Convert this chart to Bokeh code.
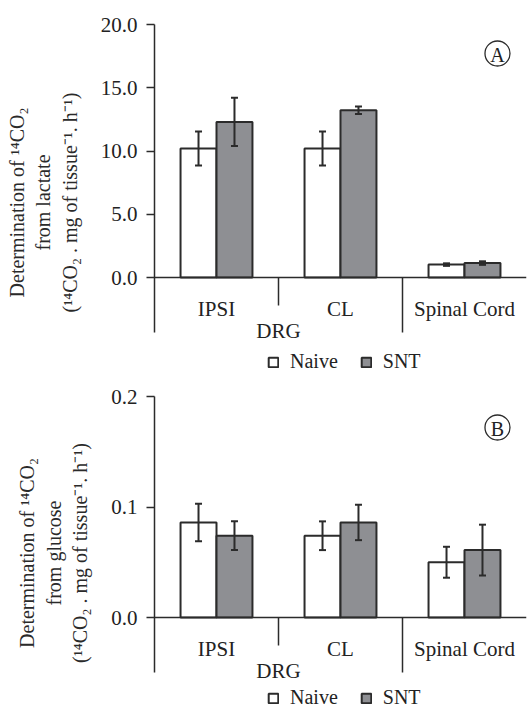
from bokeh.plotting import figure
from bokeh.models import (ColumnDataSource, FactorRange, FixedTicker, NumeralTickFormatter,
                          Span, Whisker, TeeHead, Legend, LegendItem, Range1d)
from bokeh.transform import dodge
from bokeh.core.properties import value
from bokeh.layouts import column
from bokeh.embed import file_html
from bokeh.resources import INLINE

# ---------------- data ----------------
categories = ["IPSI", "CL", "Spinal Cord"]
series_names = ["Naive", "SNT"]
group_label = "DRG"

lactate_naive = [10.2, 10.2, 1.02]
lactate_naive_err = [1.35, 1.35, 0.10]
lactate_snt = [12.3, 13.22, 1.14]
lactate_snt_err = [1.9, 0.29, 0.14]
lactate_ticks = [0, 5, 10, 15, 20]

glucose_naive = [0.086, 0.074, 0.050]
glucose_naive_err = [0.017, 0.013, 0.014]
glucose_snt = [0.074, 0.086, 0.061]
glucose_snt_err = [0.013, 0.016, 0.023]
glucose_ticks = [0.0, 0.1, 0.2]

label_A = "Determination of \u00b9\u2074CO\u2082\nfrom lactate\n(\u00b9\u2074CO\u2082 . mg of tissue\u207b\u00b9. h\u207b\u00b9)"
label_B = "Determination of \u00b9\u2074CO\u2082\nfrom glucose\n(\u00b9\u2074CO\u2082 . mg of tissue\u207b\u00b9. h\u207b\u00b9)"

# ---------------- style ----------------
FONT = "Liberation Serif"
FS = "21px"
TXT = "#222222"
EDGE = "#2b2b2b"
GRAY = "#8e8f93"
BAR_W = 0.29
OFF = 0.145
W = 532
LEFT = 154
RIGHT = 6


def make_panel(naive, naive_err, snt, snt_err, ticks, ylabel, tag,
               height, top, plot_px, axis_below_px, legend_y, tag_px):
    # plot_px: pixels from 0 to the top tick; axis_below_px: axis line length below 0
    y_end = ticks[-1]
    ppu = plot_px / y_end
    frame_h = height - top
    y_start = -(frame_h - plot_px) / ppu
    axis_low = -axis_below_px / ppu

    p = figure(width=W, height=height, x_range=FactorRange(factors=categories, range_padding=0),
               y_range=Range1d(y_start, y_end), output_backend="svg", toolbar_location=None,
               min_border_left=LEFT, min_border_right=RIGHT, min_border_top=top,
               min_border_bottom=0)
    p.outline_line_color = None
    p.grid.visible = False
    p.xaxis.visible = False
    p.background_fill_color = "white"
    p.border_fill_color = "white"

    ya = p.yaxis[0]
    ya.bounds = (axis_low, y_end)
    ya.ticker = FixedTicker(ticks=ticks)
    ya.formatter = NumeralTickFormatter(format="0.0")
    ya.minor_tick_line_color = None
    ya.major_tick_in = 0
    ya.major_tick_out = 8
    ya.major_label_standoff = 9
    ya.axis_line_color = EDGE
    ya.axis_line_width = 1.5
    ya.major_tick_line_color = EDGE
    ya.major_tick_line_width = 1.5
    ya.major_label_text_font = FONT
    ya.major_label_text_font_size = FS
    ya.major_label_text_color = TXT
    ya.axis_label = ylabel
    ya.axis_label_text_font = FONT
    ya.axis_label_text_font_size = "20px"
    ya.axis_label_text_font_style = "normal"
    ya.axis_label_text_color = "#2a2a2a"
    ya.axis_label_standoff = 17

    src = ColumnDataSource(dict(
        cat=categories, naive=naive, snt=snt,
        n_lo=[v - e for v, e in zip(naive, naive_err)],
        n_hi=[v + e for v, e in zip(naive, naive_err)],
        s_lo=[v - e for v, e in zip(snt, snt_err)],
        s_hi=[v + e for v, e in zip(snt, snt_err)],
        lab_y=[-31 / ppu] * len(categories),
    ))

    rn = p.vbar(x=dodge("cat", -OFF, range=p.x_range), top="naive", bottom=0, width=BAR_W,
                source=src, fill_color="white", line_color=EDGE, line_width=2)
    rs = p.vbar(x=dodge("cat", OFF, range=p.x_range), top="snt", bottom=0, width=BAR_W,
                source=src, fill_color=GRAY, line_color=EDGE, line_width=2)

    for off, lo, hi in ((-OFF, "n_lo", "n_hi"), (OFF, "s_lo", "s_hi")):
        wk = Whisker(base=dodge("cat", off, range=p.x_range), lower=lo, upper=hi, source=src,
                     line_color=EDGE, line_width=2, level="overlay",
                     upper_head=TeeHead(size=7, line_color=EDGE, line_width=2),
                     lower_head=TeeHead(size=7, line_color=EDGE, line_width=2))
        p.add_layout(wk)

    p.add_layout(Span(location=0, dimension="width", line_color=EDGE, line_width=1.5))

    # category separators below the zero line
    sep = ColumnDataSource(dict(cat=categories[:2], y1=[-28 / ppu, axis_low]))
    p.segment(x0=dodge("cat", 0.5, range=p.x_range), x1=dodge("cat", 0.5, range=p.x_range),
              y0=0, y1="y1", source=sep, line_color=EDGE, line_width=1.5)

    p.text(x="cat", y="lab_y", text="cat", source=src, text_align="center",
           text_baseline="middle", text_font=value(FONT), text_font_size=value(FS),
           text_color=TXT)

    grp = ColumnDataSource(dict(cat=[categories[0]], y=[-53 / ppu], t=[group_label]))
    p.text(x=dodge("cat", 0.5, range=p.x_range), y="y", text="t", source=grp,
           text_align="center", text_baseline="middle", text_font=value(FONT),
           text_font_size=value(FS), text_color=TXT)

    # panel tag
    tg = ColumnDataSource(dict(cat=[categories[-1]], y=[tag_px / ppu], t=[tag]))
    p.scatter(x=dodge("cat", 0.266, range=p.x_range), y="y", source=tg, marker="circle",
              size=25, fill_color="white", line_color=EDGE, line_width=1.3)
    p.text(x=dodge("cat", 0.266, range=p.x_range), y="y", text="t", source=tg,
           text_align="center", text_baseline="middle", text_font=value(FONT),
           text_font_size=value("20px"), text_color=TXT, y_offset=1)

    legend = Legend(items=[LegendItem(label=series_names[0], renderers=[rn]),
                           LegendItem(label=series_names[1], renderers=[rs])],
                    orientation="horizontal", location=(113, legend_y), margin=0,
                    glyph_width=12, glyph_height=12, label_standoff=11, spacing=22,
                    label_height=20, label_text_font=FONT, label_text_font_size="20px",
                    label_text_color=TXT, padding=0,
                    border_line_color=None, background_fill_alpha=0)
    p.add_layout(legend)
    return p


pA = make_panel(lactate_naive, lactate_naive_err, lactate_snt, lactate_snt_err,
                lactate_ticks, label_A, "A", height=380, top=24, plot_px=253,
                axis_below_px=55, legend_y=7, tag_px=224)
pB = make_panel(glucose_naive, glucose_naive_err, glucose_snt, glucose_snt_err,
                glucose_ticks, label_B, "B", height=329, top=16, plot_px=221,
                axis_below_px=55, legend_y=0, tag_px=190)

layout = column(pA, pB, spacing=0)
open("out.html", "w").write(file_html(layout, INLINE))
